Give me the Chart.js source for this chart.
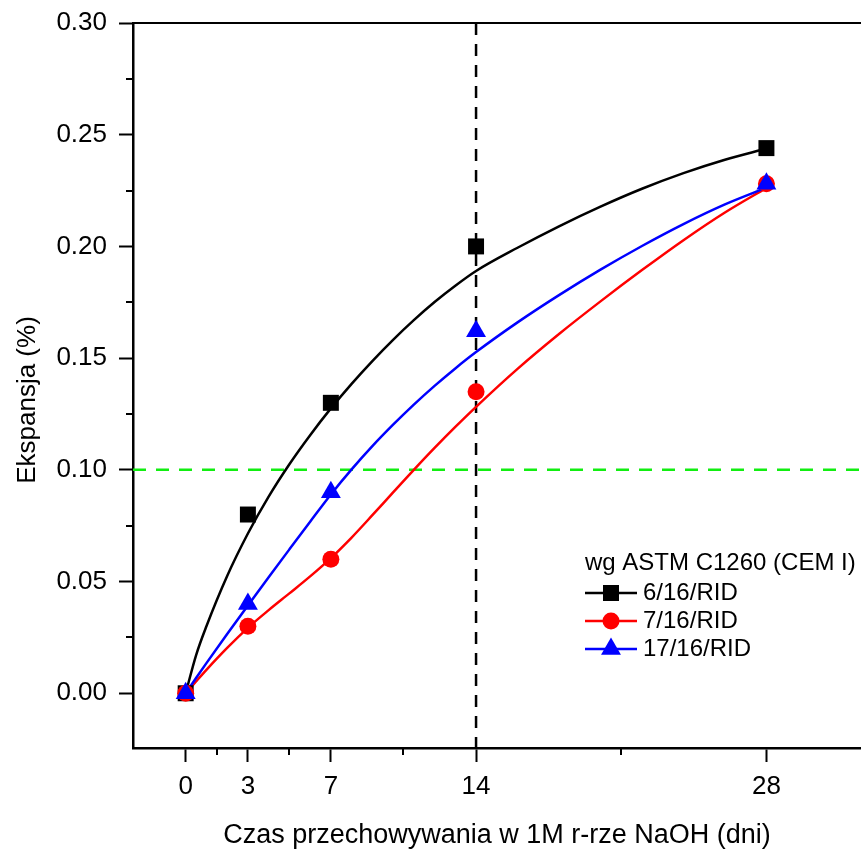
<!DOCTYPE html>
<html>
<head>
<meta charset="utf-8">
<script src="https://cdn.jsdelivr.net/npm/chart.js@4"></script>
<style>
  html, body { margin: 0; padding: 0; background: #fff; }
  #wrap { width: 861px; height: 849px; }
</style>
</head>
<body>
<div id="wrap"><canvas id="chart" width="861" height="849"></canvas></div>
<script>
// dane
const dni = [0, 3, 7, 14, 28];
const eksp6 = [0, 0.08, 0.13, 0.2, 0.244];
const eksp7 = [0, 0.03, 0.06, 0.135, 0.228];
const eksp17 = [0, 0.04, 0.09, 0.162, 0.228];

// krzywe dopasowania
const dniFit = [0, 0.5, 1, 2, 3, 4, 5, 6, 7, 8, 9, 10, 11, 12, 13, 14, 16, 18, 20, 22, 24, 26, 28];
const fit6 = [0, 0.017, 0.030, 0.0525, 0.0715, 0.088, 0.1025, 0.1155, 0.1275, 0.1385, 0.1487, 0.1582, 0.167, 0.1751, 0.1824, 0.189, 0.1994, 0.209, 0.2178, 0.2258, 0.2328, 0.2388, 0.2438];
const fit7 = [0, 0.0053, 0.0105, 0.0203, 0.0293, 0.0372, 0.0447, 0.0523, 0.0605, 0.0697, 0.0797, 0.0899, 0.1, 0.1098, 0.1192, 0.1282, 0.1452, 0.1608, 0.1754, 0.1894, 0.2028, 0.2152, 0.2262];
const fit17 = [0, 0.0068, 0.0135, 0.0265, 0.0393, 0.0519, 0.0644, 0.0768, 0.089, 0.1002, 0.1106, 0.1202, 0.1292, 0.1376, 0.1454, 0.1527, 0.166, 0.1782, 0.1896, 0.2002, 0.21, 0.2188, 0.2263];

const xTicks = [0, 3, 7, 14, 28];
const xMinor = [1.5, 5, 10.5, 21];
const yTicks = [0, 0.05, 0.1, 0.15, 0.2, 0.25, 0.3];
const yMinor = [0.025, 0.075, 0.125, 0.175, 0.225, 0.275];
const granica = 0.1;     // linia pozioma
const dzien14 = 14;      // linia pionowa
const xMin = -2.54, xMax = 32.56;
const yMin = -0.0245, yMax = 0.3;

const serie = [
    { nazwa: '6/16/RID', kolor: '#000000', styl: 'rect', r: 11.3, y: eksp6, fit: fit6 },
    { nazwa: '7/16/RID', kolor: '#ff0000', styl: 'circle', r: 8.5, y: eksp7, fit: fit7 },
    { nazwa: '17/16/RID', kolor: '#0000ff', styl: 'triangle', r: 11.5, y: eksp17, fit: fit17 }
];

const FONT = '"Liberation Sans", Arial, sans-serif';
const pary = (xs, ys) => xs.map((x, i) => ({ x: x, y: ys[i] }));

const datasets = [];
// znaczniki (na wierzchu) - niebieski, czerwony, czarny
[2, 1, 0].forEach(i => {
    const s = serie[i];
    datasets.push({
        label: s.nazwa,
        data: pary(dni, s.y),
        showLine: false,
        pointStyle: s.styl,
        pointRadius: s.r,
        pointBackgroundColor: s.kolor,
        pointBorderColor: s.kolor,
        pointBorderWidth: 0
    });
});
// krzywe
[2, 1, 0].forEach(i => {
    const s = serie[i];
    datasets.push({
        label: s.nazwa + ' fit',
        data: pary(dniFit, s.fit),
        showLine: true,
        borderColor: s.kolor,
        borderWidth: 2.5,
        pointRadius: 0,
        cubicInterpolationMode: 'monotone'
    });
});
// linie przerywane
datasets.push({
    label: 'limit',
    data: [{ x: xMin, y: granica }, { x: xMax, y: granica }],
    showLine: true, borderColor: '#11ee11', borderWidth: 2.5, borderDash: [13, 10], pointRadius: 0
});
datasets.push({
    label: '14 dni',
    data: [{ x: dzien14, y: yMax }, { x: dzien14, y: yMin }],
    showLine: true, borderColor: '#000000', borderWidth: 2.5, borderDash: [12, 9], pointRadius: 0
});

// podziałki pomocnicze, ramka górna, tytuł osi Y i legenda
const dodatki = {
    id: 'dodatki',
    afterDraw(chart) {
        const ctx = chart.ctx;
        const a = chart.chartArea;
        const sx = chart.scales.x, sy = chart.scales.y;
        ctx.save();
        ctx.strokeStyle = '#000';
        ctx.lineWidth = 2;
        ctx.beginPath();
        ctx.moveTo(a.left - 1, a.top);
        ctx.lineTo(a.right, a.top);
        xMinor.forEach(v => {
            const px = Math.round(sx.getPixelForValue(v));
            ctx.moveTo(px, a.bottom);
            ctx.lineTo(px, a.bottom + 7);
        });
        yMinor.forEach(v => {
            const py = Math.round(sy.getPixelForValue(v));
            ctx.moveTo(a.left, py);
            ctx.lineTo(a.left - 7, py);
        });
        ctx.stroke();

        // tytuł osi Y
        ctx.save();
        ctx.translate(35, 400);
        ctx.rotate(-Math.PI / 2);
        ctx.fillStyle = '#000';
        ctx.font = '26px ' + FONT;
        ctx.textAlign = 'center';
        ctx.textBaseline = 'alphabetic';
        ctx.fillText('Ekspansja (%)', 0, 0);
        ctx.restore();

        // legenda
        const lx = 585, ly = 563, dy = 28;
        ctx.fillStyle = '#000';
        ctx.font = '24px ' + FONT;
        ctx.textAlign = 'left';
        ctx.textBaseline = 'middle';
        ctx.fillText('wg ASTM C1260 (CEM I)', lx, ly);
        serie.forEach((s, i) => {
            const y = ly + 30 + i * dy;
            ctx.strokeStyle = s.kolor;
            ctx.lineWidth = 2.5;
            ctx.beginPath();
            ctx.moveTo(lx, y);
            ctx.lineTo(lx + 52, y);
            ctx.stroke();
            ctx.fillStyle = s.kolor;
            Chart.helpers.drawPoint(ctx, { pointStyle: s.styl, radius: s.r, borderWidth: 0 }, lx + 26, y);
            ctx.fillStyle = '#000';
            ctx.fillText(s.nazwa, lx + 58, y);
        });
        ctx.restore();
    }
};

new Chart(document.getElementById('chart'), {
    type: 'scatter',
    data: { datasets: datasets },
    plugins: [dodatki],
    options: {
        responsive: false,
        animation: false,
        layout: { autoPadding: false, padding: { top: 23, right: 0, left: 0, bottom: 0 } },
        plugins: { legend: { display: false }, tooltip: { enabled: false } },
        scales: {
            x: {
                type: 'linear',
                min: xMin, max: xMax,
                afterFit: s => { s.height = 101; s.paddingLeft = 0; s.paddingRight = 0; },
                afterBuildTicks: s => { s.ticks = xTicks.map(v => ({ value: v })); },
                grid: { drawOnChartArea: false, tickLength: 14, tickWidth: 2, tickColor: '#000' },
                border: { display: true, color: '#000', width: 2.5 },
                ticks: { color: '#000', font: { family: FONT, size: 26 }, padding: 9, maxRotation: 0 },
                title: {
                    display: true,
                    text: 'Czas przechowywania w 1M r-rze NaOH (dni)',
                    color: '#000',
                    font: { family: FONT, size: 27 },
                    padding: { top: 0, bottom: -3 }
                }
            },
            y: {
                type: 'linear',
                min: yMin, max: yMax,
                afterFit: s => { s.width = 133; s.paddingTop = 0; s.paddingBottom = 0; },
                afterBuildTicks: s => { s.ticks = yTicks.map(v => ({ value: v })); },
                grid: { drawOnChartArea: false, tickLength: 14, tickWidth: 2, tickColor: '#000' },
                border: { display: true, color: '#000', width: 2.5 },
                ticks: {
                    color: '#000', font: { family: FONT, size: 26 }, padding: 12,
                    callback: v => v.toFixed(2)
                },
                title: { display: false }
            }
        }
    }
});
</script>
</body>
</html>
